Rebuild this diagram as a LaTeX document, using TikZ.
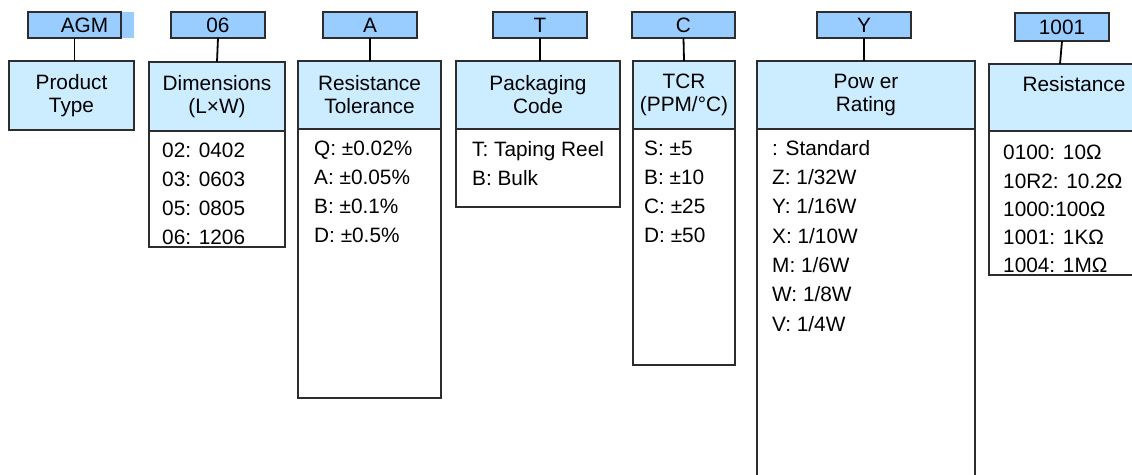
\documentclass[tikz,border=0pt]{standalone}
\usepackage{fontspec}
\setmainfont{Liberation Sans}
\usepackage{tikz}
\usetikzlibrary{positioning,calc}
\definecolor{codeblue}{RGB}{153,204,255}
\definecolor{headblue}{RGB}{204,236,255}
\definecolor{edgegray}{RGB}{45,45,45}
\tikzset{
    codebox/.style={draw=edgegray, fill=codeblue, line width=1.3pt, minimum height=26pt, inner sep=0pt, outer sep=0pt},
    headbox/.style={draw=edgegray, fill=headblue, line width=1.3pt, minimum height=69pt, inner sep=0pt, outer sep=0pt, align=center, anchor=north west},
    listbox/.style={draw=edgegray, fill=white, line width=1.3pt, inner sep=0pt, outer sep=0pt, anchor=north},
    listtext/.style={align=left, inner sep=0pt, font=\fontsize{20.8}{29}\selectfont},
    link/.style={line width=1.8pt, black}
}

\begin{document}
\begin{tikzpicture}[x=1pt, y=-1pt, font=\fontsize{20.8}{23}\selectfont]
    \useasboundingbox (0,0) rectangle (1132,474);
    \clip (0,0) rectangle (1132,474);

    % code fields on top
    \node[codebox, minimum width=93pt] (agm) at (74.5,25) {\hspace{20pt}AGM};
    \fill[codeblue] ($(agm.north east)+(0.6,0)$) rectangle ($(agm.south east)+(13,0)$);
    \node[codebox, minimum width=94pt] (dimcode) at (218,25) {06};
    \node[codebox, minimum width=94pt] (tolcode) at (370,25) {A};
    \node[codebox, minimum width=94pt] (pkgcode) at (540,25) {T};
    \node[codebox, minimum width=103pt] (tcrcode) at (683.5,25) {C};
    \node[codebox, minimum width=94pt] (pwrcode) at (864,25) {Y};
    \node[codebox, minimum width=94pt, minimum height=28pt] (rescode) at (1062,27) {1001};

    % headings
    \node[headbox, minimum width=125pt] (typehead) at (9,61) {Product\\Type};
    \node[headbox, minimum width=136pt] (dimhead) at (149,62) {Dimensions\\(L×W)};
    \node[headbox, minimum width=143pt, minimum height=68pt] (tolhead) at (298,61) {Resistance\\Tolerance};
    \node[headbox, minimum width=164pt, minimum height=68pt] (pkghead) at (456,61) {Packaging\\Code};
    \node[headbox, minimum width=102pt, minimum height=68pt] (tcrhead) at (633,61) {TCR\\(PPM/°C)};
    \node[headbox, minimum width=218pt, minimum height=68pt] (pwrhead) at (757,61) {Pow er\\Rating};
    \node[headbox, minimum width=170pt, minimum height=67pt] (reshead) at (989,64) {Resistance\\[4pt]\phantom{R}};

    % option lists
    \node[listbox, minimum width=136pt, minimum height=116pt] (dimlist) at (dimhead.south) {};
    \node[listbox, minimum width=143pt, minimum height=269pt] (tollist) at (tolhead.south) {};
    \node[listbox, minimum width=164pt, minimum height=78pt] (pkglist) at (pkghead.south) {};
    \node[listbox, minimum width=102pt, minimum height=236pt] (tcrlist) at (tcrhead.south) {};
    \node[listbox, minimum width=218pt, minimum height=400pt] (pwrlist) at (pwrhead.south) {};
    \node[listbox, minimum width=170pt, minimum height=144pt] (reslist) at (reshead.south) {};

    \node[listtext, below right=12pt and 13pt of dimlist.north west] (dimtext) {02: 0402\\03: 0603\\05: 0805\\06: 1206};
    \node[listtext, below right=12pt and 16pt of tollist.north west] (toltext) {Q: ±0.02\%\\A: ±0.05\%\\B: ±0.1\%\\D: ±0.5\%};
    \node[listtext, below right=12pt and 16pt of pkglist.north west] (pkgtext) {T: Taping Reel\\B: Bulk};
    \node[listtext, below right=12pt and 11pt of tcrlist.north west] (tcrtext) {S: ±5\\B: ±10\\C: ±25\\D: ±50};
    \node[listtext, below right=11pt and 15pt of pwrlist.north west, font=\fontsize{20.8}{29.3}\selectfont] (pwrtext) {: Standard\\Z: 1/32W\\Y: 1/16W\\X: 1/10W\\M:\ 1/6W\\W: 1/8W\\V: 1/4W};
    \node[listtext, below right=14pt and 14pt of reslist.north west, font=\fontsize{20.8}{28.3}\selectfont] (restext) {0100: 10Ω\\10R2: 10.2Ω\\1000:100Ω\\1001: 1KΩ\\1004: 1MΩ};

    % links code -> heading
    \draw[link] (agm.south) -- (typehead.north -| agm.south);
    \draw[link] (dimcode.south) -- (dimhead.north);
    \draw[link] (tolcode.south) -- (tolhead.north -| tolcode.south);
    \draw[link] (pkgcode.south) -- (pkghead.north -| pkgcode.south);
    \draw[link] (tcrcode.south) -- (tcrhead.north);
    \draw[link] (pwrcode.south) -- (pwrhead.north -| pwrcode.south);
    \draw[link] (rescode.south) -- ($(reshead.north west)+(71,0)$);
\end{tikzpicture}
\end{document}
